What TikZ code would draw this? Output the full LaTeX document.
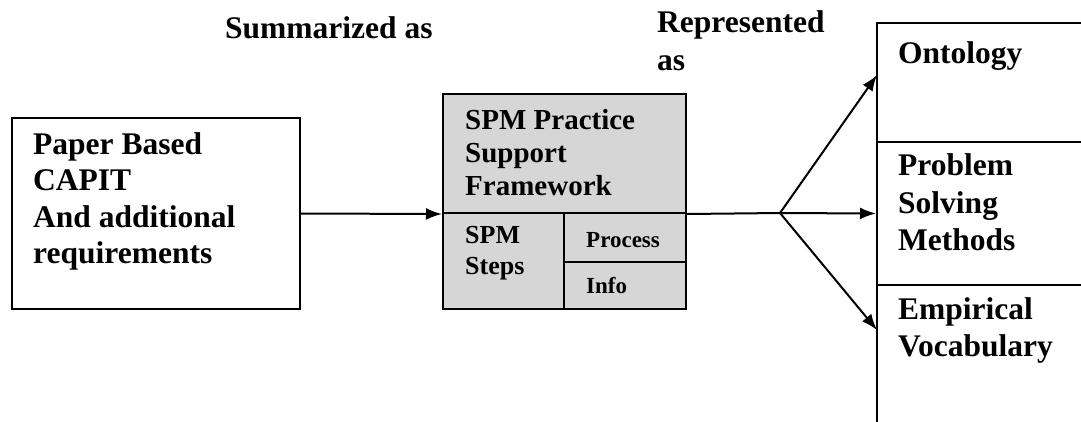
\documentclass[tikz,border=0pt]{standalone}
\usepackage{fontspec}
\setmainfont{Liberation Serif}
\usepackage{tikz}
\usetikzlibrary{arrows.meta}
\definecolor{cellgray}{gray}{0.84}

\begin{document}
\begin{tikzpicture}[x=1pt, y=-1pt]
  \tikzstyle{line} = [draw, -{Latex[length=16pt, width=12pt]}, line width = 2pt]
  \tikzstyle{box} = [draw, line width = 2pt, inner sep = 0pt]
  \tikzstyle{cell} = [box, fill = cellgray]
  \tikzstyle{txt} = [align = left, anchor = north west, inner sep = 0pt, execute at begin node = \strut]
  \tikzstyle{big} = [font = \fontsize{31.5}{37.5}\selectfont\bfseries]
  \clip (0,0) rectangle (1081,421);

  \node[box, minimum width = 288, minimum height = 191] (paper) at (156,213.5){};
  \node[cell, minimum width = 243, minimum height = 119] (frame) at (564.5,153.5){};
  \node[cell, minimum width = 121, minimum height = 96] (steps) at (503.5,261){};
  \node[cell, minimum width = 122, minimum height = 49] (process) at (625,237.5){};
  \node[cell, minimum width = 122, minimum height = 47] (info) at (625,285.5){};
  \node[box, minimum width = 223, minimum height = 119] (onto) at (988.5,82.5){};
  \node[box, minimum width = 223, minimum height = 143] (psm) at (988.5,213.5){};
  \node[box, minimum width = 223, minimum height = 155] (emp) at (988.5,362.5){};

  \node[txt, font = \fontsize{31.5}{36.5}\selectfont\bfseries] (paperText) at (33,132.4)
    {Paper Based\\CAPIT\\And additional\\requirements};
  \node[txt, font = \fontsize{29}{33}\selectfont\bfseries] (frameText) at (465,108.9)
    {SPM Practice\\Support\\Framework};
  \node[txt, font = \fontsize{26}{31}\selectfont\bfseries] (stepsText) at (465,226.3)
    {SPM\\Steps};
  \node[anchor = base west, inner sep = 0pt, font = \fontsize{23}{28}\selectfont\bfseries] (processText) at (586,247) {Process};
  \node[anchor = base west, inner sep = 0pt, font = \fontsize{23}{28}\selectfont\bfseries] (infoText) at (586,293) {Info};
  \node[anchor = base west, inner sep = 0pt, big] (ontoText) at (898,63) {Ontology};
  \node[txt, big] (psmText) at (898,153.75) {Problem\\Solving\\Methods};
  \node[txt, font = \fontsize{31.5}{37}\selectfont\bfseries] (empText) at (898,297.1) {Empirical\\Vocabulary};
  \node[anchor = base west, inner sep = 0pt, big] (summ) at (225,38) {Summarized as};
  \node[txt, font = \fontsize{31.5}{38}\selectfont\bfseries] (repr) at (657,10.4) {Represented\\as};

  \coordinate (fork) at (780,213);
  \coordinate (ontoTip) at (877,75);
  \coordinate (empTip) at (877,330);

  \path [line] (paper.east) -- (frame.south west);
  \draw [line width = 2pt] (frame.south east) -- (fork);
  \path [line] (fork) -- (ontoTip);
  \path [line] (fork) -- (psm.west);
  \path [line] (fork) -- (empTip);

\end{tikzpicture}
\end{document}
